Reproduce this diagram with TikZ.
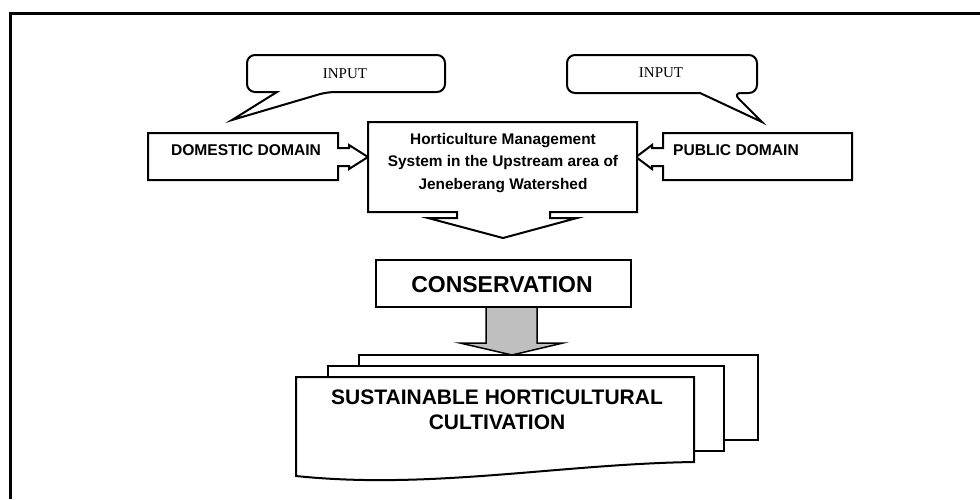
\documentclass[tikz,border=0pt]{standalone}
\usepackage{fontspec}
\setmainfont{Liberation Sans}
\newfontfamily\serifin{Liberation Serif}
\begin{document}
\begin{tikzpicture}[x=1pt,y=-1pt,
  shapeline/.style={draw=black,line width=2pt,fill=white,line join=miter},
  boldtxt/.style={font=\bfseries,align=center,inner sep=0pt},
  inputtxt/.style={font=\serifin\fontsize{15}{18}\selectfont,inner sep=0pt}]
\useasboundingbox (0,0) rectangle (980,499);
\fill[white] (0,0) rectangle (980,499);
% outer frame (open to the right and bottom)
\draw[line width=3pt] (10,499) -- (10,13) -- (980,13);

% speech callouts
\draw[shapeline,rounded corners=8pt]
  (247,55) -- (445,55) -- (445,92) -- (327,92) [sharp corners] -- (232,120) -- (277,92)
  [rounded corners=8pt] -- (247,92) -- cycle;
\draw[shapeline,rounded corners=8pt]
  (567,55) -- (757,55) -- (757,93) -- (733,93) [sharp corners] -- (762,122) -- (700,93)
  [rounded corners=8pt] -- (567,93) -- cycle;
\node[inputtxt] (in1) at (345,74) {INPUT};
\node[inputtxt] (in2) at (661,73) {INPUT};

% domestic domain: right arrow callout
\draw[shapeline] (148,133) -- (338,133) -- (338,148) -- (349,148) -- (349,145) -- (368,157)
  -- (349,169) -- (349,166) -- (338,166) -- (338,180) -- (148,180) -- cycle;
\node[boldtxt,font=\bfseries\fontsize{15.6}{18}\selectfont] (dom) at (246,150) {DOMESTIC DOMAIN};

% public domain: left arrow callout
\draw[shapeline] (852,133) -- (663,133) -- (663,148) -- (652,148) -- (652,145) -- (636,157)
  -- (652,169) -- (652,166) -- (663,166) -- (663,180) -- (852,180) -- cycle;
\node[boldtxt,font=\bfseries\fontsize{15.6}{18}\selectfont] (pub) at (736,150) {PUBLIC DOMAIN};

% central system box: down arrow callout
\draw[shapeline] (368,122) -- (637,122) -- (637,212) -- (550,212) -- (550,218) -- (577,218)
  -- (503,238) -- (428,218) -- (457,218) -- (457,212) -- (368,212) -- cycle;
\node[boldtxt,font=\bfseries\fontsize{15.4}{22.5}\selectfont] (sys) at (503,163)
  {Horticulture Management\\System in the Upstream area of\\Jeneberang Watershed};

% conservation
\draw[shapeline] (376,260) rectangle (631,307);
\node[boldtxt,font=\bfseries\fontsize{23}{26}\selectfont] (cons) at (502,285) {CONSERVATION};

% grey block arrow
\draw[draw=black,line width=1.5pt,fill=black!25,line join=miter]
  (486,307) -- (537,307) -- (537,343) -- (563,343) -- (512,355) -- (460,343) -- (486,343) -- cycle;

% stacked documents
\draw[shapeline] (359,355) rectangle (758,440);
\draw[shapeline] (328,366) rectangle (724,451);
\draw[shapeline] (296,377) -- (694,377) -- (694,462)
  .. controls (560,464) and (430,490) .. (296,476) -- cycle;
\node[boldtxt,font=\bfseries\fontsize{21}{25}\selectfont] (sus) at (497,410)
  {SUSTAINABLE HORTICULTURAL\\CULTIVATION};
\end{tikzpicture}
\end{document}
